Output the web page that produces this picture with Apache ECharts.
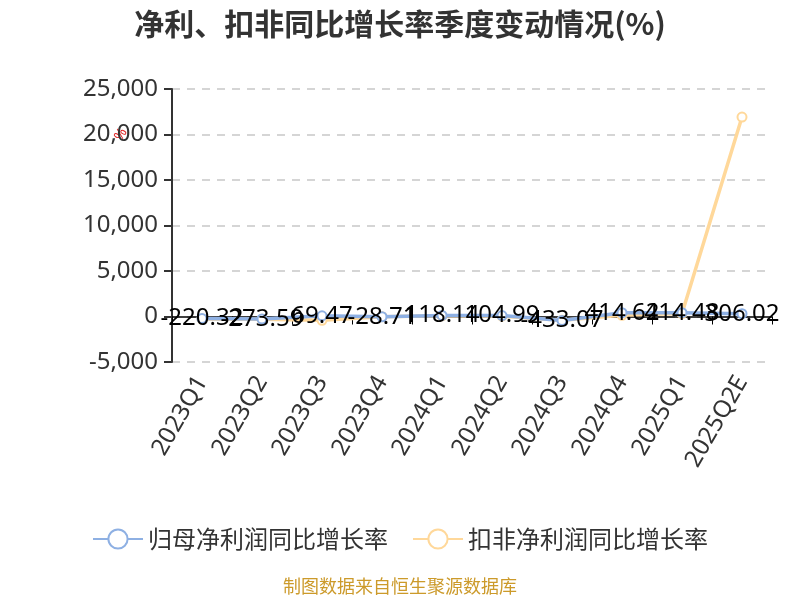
<!DOCTYPE html>
<html>
<head>
<meta charset="utf-8">
<script src="https://cdn.jsdelivr.net/npm/echarts@6/dist/echarts.min.js"></script>
<style>html,body{margin:0;padding:0;background:#fff}#c{width:800px;height:600px}</style>
</head>
<body>
<div id="c"></div>
<script>
var categories = ['2023Q1','2023Q2','2023Q3','2023Q4','2024Q1','2024Q2','2024Q3','2024Q4','2025Q1','2025Q2E'];
var netProfitYoY = [-220.32, -273.59, 69.47, -28.71, 118.14, 104.99, -433.07, 414.62, 414.48, 306.02];
var deductedYoY = [-280, -310, -420, -20, 80, 40, -410, 130, 330, 21920];
var yTicks = [-5000, 0, 5000, 10000, 15000, 20000, 25000];
var seriesNames = ['归母净利润同比增长率', '扣非净利润同比增长率'];

var chart = echarts.init(document.getElementById('c'));
chart.setOption({
  animation: false,
  title: {
    text: '净利、扣非同比增长率季度变动情况(%)',
    left: 'center', top: 4,
    textStyle: {fontSize: 30, fontWeight: 'bold', color: '#333', fontFamily: 'Noto Sans CJK SC'}
  },
  legend: {
    data: seriesNames,
    left: 'center', top: 522,
    itemWidth: 50, itemHeight: 24, itemGap: 24,
    textStyle: {fontSize: 24, color: '#333', fontFamily: 'Noto Sans CJK SC'}
  },
  graphic: [
    {type: 'text', left: 'center', top: 577,
     style: {text: '制图数据来自恒生聚源数据库', fill: '#cc9a2a', fontSize: 18, fontFamily: 'Noto Sans CJK SC'}},
    {type: 'text', x: 112, y: 136, rotation: Math.PI / 3,
     style: {text: '%', fill: '#e02020', fontSize: 14, fontFamily: 'Noto Sans'}}
  ],
  grid: {left: 172, right: 28, top: 89, bottom: 238, containLabel: false},
  xAxis: {
    type: 'category',
    data: categories,
    boundaryGap: true,
    axisLine: {onZero: true, lineStyle: {color: '#000', width: 1.5}},
    axisTick: {show: true, length: 8, lineStyle: {color: '#000'}},
    axisLabel: {rotate: 60, fontSize: 24, color: '#333', margin: 16, fontFamily: 'Noto Sans'}
  },
  yAxis: {
    type: 'value',
    min: yTicks[0], max: yTicks[yTicks.length - 1], interval: 5000,
    axisLine: {show: true, lineStyle: {color: '#333', width: 2}},
    axisTick: {show: true, length: 8, lineStyle: {color: '#333', width: 2}},
    axisLabel: {fontSize: 24, color: '#333', margin: 14, fontFamily: 'Noto Sans',
      formatter: function (v) { return v.toLocaleString('en-US'); }},
    splitLine: {show: true, lineStyle: {color: '#c8c8c8', type: [8, 7], width: 1.5}}
  },
  series: [
    {
      name: seriesNames[0], type: 'line', data: netProfitYoY,
      symbol: 'emptyCircle', symbolSize: 9,
      itemStyle: {color: '#8eb0e3'},
      lineStyle: {width: 3.5, color: '#8eb0e3'},
      label: {show: true, position: 'inside', fontSize: 24, color: '#000', fontFamily: 'Noto Sans',
        formatter: function (p) { return p.value.toFixed(2); }},
      z: 3
    },
    {
      name: seriesNames[1], type: 'line', data: deductedYoY,
      symbol: 'emptyCircle', symbolSize: 9,
      itemStyle: {color: '#ffd89a'},
      lineStyle: {width: 3.5, color: '#ffd89a'},
      z: 2
    }
  ]
});
</script>
</body>
</html>
